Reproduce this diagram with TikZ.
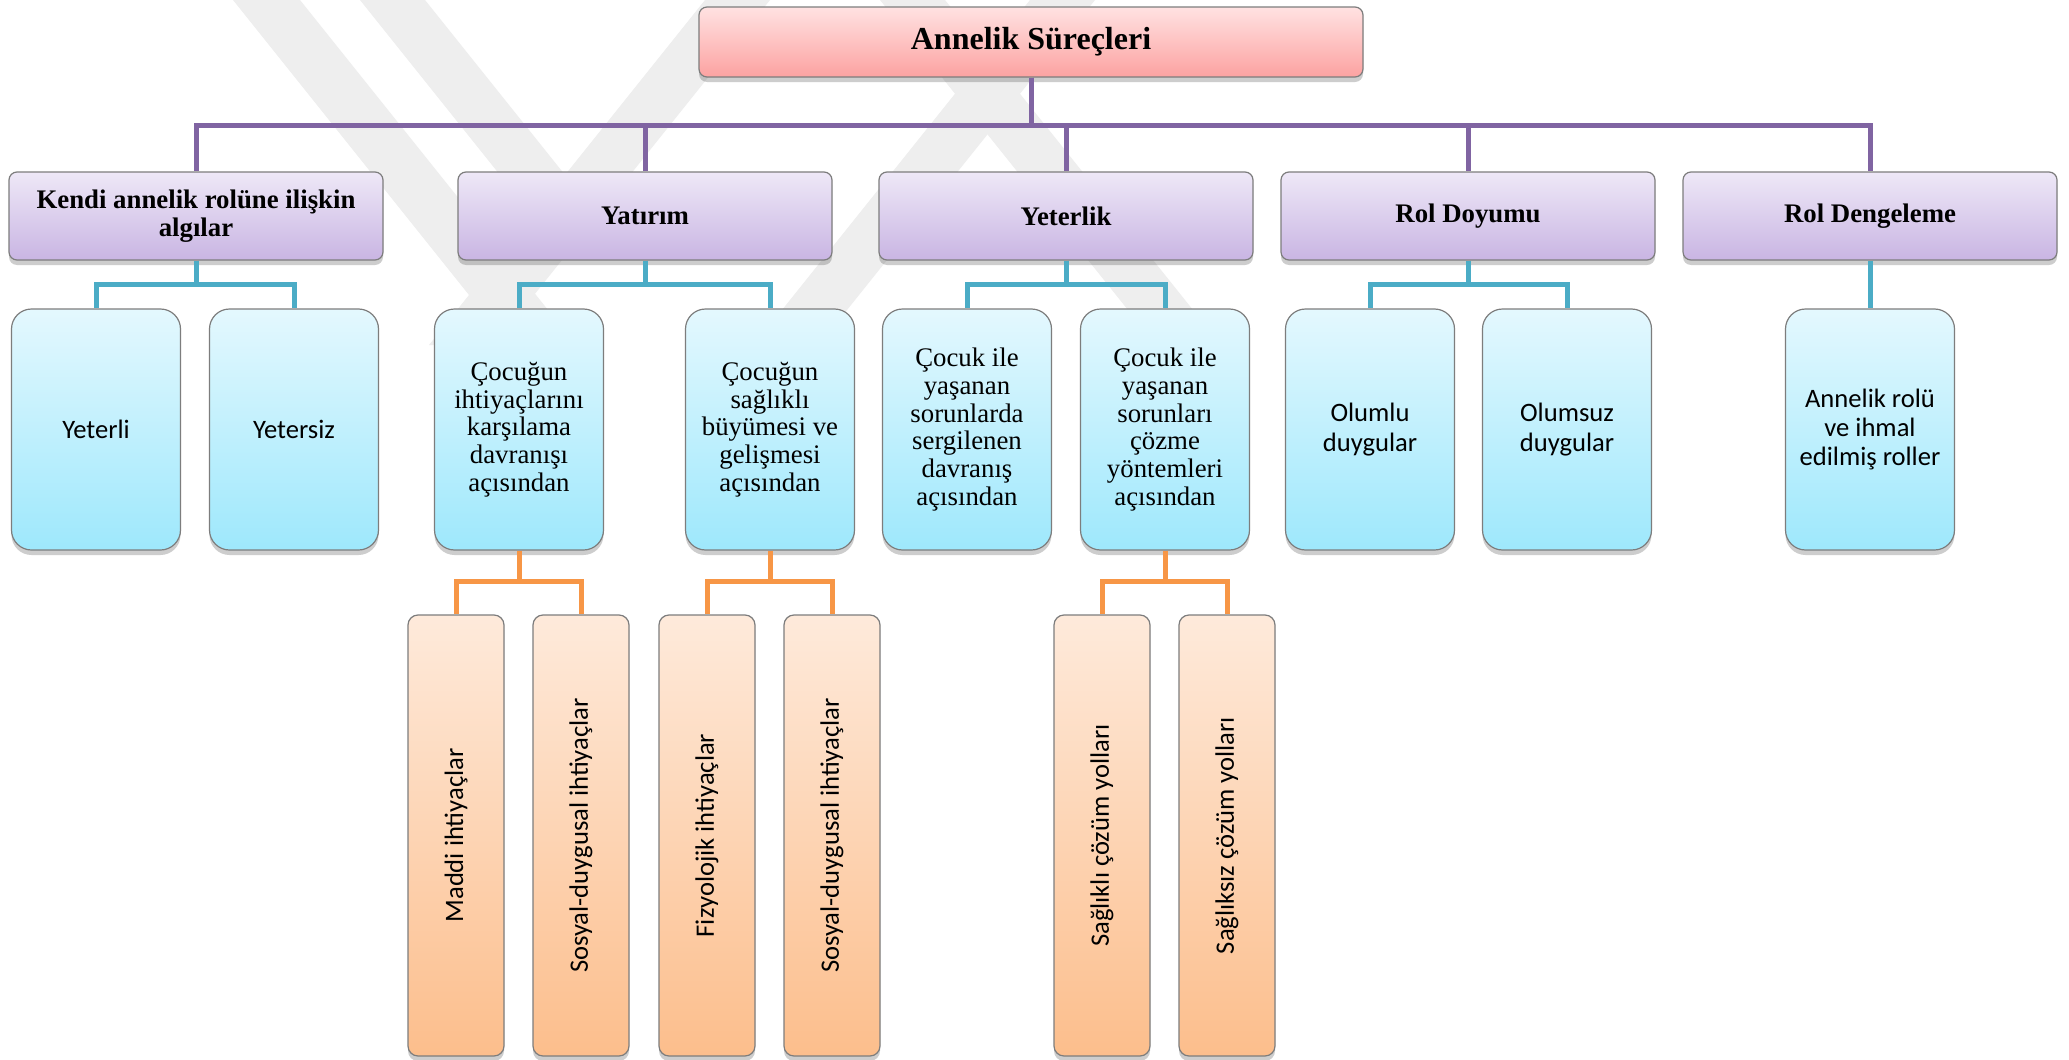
\documentclass[tikz,border=0pt]{standalone}
\usepackage{fontspec}
\setmainfont{Liberation Serif}
\newfontfamily\calibrifont{Carlito}
\usetikzlibrary{shadows}
\definecolor{pinkT}{RGB}{255,226,226}
\definecolor{pinkB}{RGB}{252,162,161}
\definecolor{purT}{RGB}{238,232,247}
\definecolor{purB}{RGB}{201,181,227}
\definecolor{bluT}{RGB}{228,248,254}
\definecolor{bluB}{RGB}{158,232,252}
\definecolor{orT}{RGB}{254,234,219}
\definecolor{orB}{RGB}{252,190,140}
\definecolor{lnP}{RGB}{128,100,162}
\definecolor{lnT}{RGB}{75,172,198}
\definecolor{lnO}{RGB}{247,150,70}
\definecolor{bdr}{RGB}{125,125,125}
\definecolor{wm}{RGB}{238,238,238}
\begin{document}
\begin{tikzpicture}[x=0.5pt,y=-0.5pt,
  box/.style={draw=bdr, line width=0.6pt, inner sep=0pt, align=center,
    drop shadow={shadow xshift=0pt, shadow yshift=-2.5pt, opacity=0.28, fill=black!70}},
  topbox/.style={box, rounded corners=4pt, minimum width=332pt, minimum height=35pt,
    top color=pinkT, bottom color=pinkB, font=\fontsize{16}{18}\selectfont\bfseries},
  lvlone/.style={box, rounded corners=4pt, minimum width=187pt, minimum height=44pt,
    top color=purT, bottom color=purB, font=\fontsize{13.4}{14}\selectfont\bfseries},
  lvltwo/.style={box, rounded corners=10pt, minimum width=84.5pt, minimum height=120.5pt,
    top color=bluT, bottom color=bluB},
  seriftxt/.style={font=\fontsize{13.4}{13.9}\selectfont},
  sanstxt/.style={font=\calibrifont\fontsize{13.3}{14.6}\selectfont},
  lvlthree/.style={box, rounded corners=5pt, minimum width=48pt, minimum height=220.5pt,
    top color=orT, bottom color=orB, font=\calibrifont\fontsize{13.3}{14.6}\selectfont},
  pl/.style={draw=lnP, line width=2.5pt},
  tl/.style={draw=lnT, line width=2.5pt},
  ol/.style={draw=lnO, line width=2.5pt}]
\useasboundingbox (0,0) rectangle (2069,1060);
\fill[white] (0,0) rectangle (2069,1060);
% faint watermark
\begin{scope}
\clip (0,0) rectangle (2069,345);
\fill[wm] (233,0) -- (300,0) -- (300+0.8*345,345) -- (233+0.8*345,345) -- cycle;
\fill[wm] (360,0) -- (425,0) -- (425+0.8*200,200) -- (360+0.8*200,200) -- cycle;
\fill[wm] (705,0) -- (770,0) -- (770-0.8*345,345) -- (705-0.8*345,345) -- cycle;
\fill[wm] (880,0) -- (945,0) -- (945+0.8*345,345) -- (880+0.8*345,345) -- cycle;
\fill[wm] (1030,0) -- (1095,0) -- (1095-0.8*345,345) -- (1030-0.8*345,345) -- cycle;
\end{scope}
% bus coordinates
\coordinate (busA) at (0,125);
\coordinate (busB) at (0,284);
\coordinate (busC) at (0,581);
% nodes
\node[topbox] (top) at (1031,42) {Annelik Süreçleri};
\node[lvlone] (k1) at (196,216) {Kendi annelik rolüne ilişkin\\algılar};
\node[lvlone] (k2) at (645,216) {Yatırım};
\node[lvlone] (k3) at (1066,216) {Yeterlik};
\node[lvlone] (k4) at (1468,216) {Rol Doyumu};
\node[lvlone] (k5) at (1870,216) {Rol Dengeleme};
\node[lvltwo, sanstxt] (c11) at (96,429.5) {Yeterli};
\node[lvltwo, sanstxt] (c12) at (294,429.5) {Yetersiz};
\node[lvltwo, seriftxt] (c21) at (519,429.5) {Çocuğun\\ihtiyaçlarını\\karşılama\\davranışı\\açısından};
\node[lvltwo, seriftxt] (c22) at (770,429.5) {Çocuğun\\sağlıklı\\büyümesi ve\\gelişmesi\\açısından};
\node[lvltwo, seriftxt] (c31) at (967,429.5) {Çocuk ile\\yaşanan\\sorunlarda\\sergilenen\\davranış\\açısından};
\node[lvltwo, seriftxt] (c32) at (1165,429.5) {Çocuk ile\\yaşanan\\sorunları\\çözme\\yöntemleri\\açısından};
\node[lvltwo, sanstxt] (c41) at (1370,429.5) {Olumlu\\duygular};
\node[lvltwo, sanstxt] (c42) at (1567,429.5) {Olumsuz\\duygular};
\node[lvltwo, sanstxt] (c51) at (1870,429.5) {Annelik rolü\\ve ihmal\\edilmiş roller};
\node[lvlthree] (d1) at (456,835.5) {\rotatebox{90}{Maddi ihtiyaçlar}};
\node[lvlthree] (d2) at (581,835.5) {\rotatebox{90}{Sosyal-duygusal ihtiyaçlar}};
\node[lvlthree] (d3) at (707,835.5) {\rotatebox{90}{Fizyolojik ihtiyaçlar}};
\node[lvlthree] (d4) at (832,835.5) {\rotatebox{90}{Sosyal-duygusal ihtiyaçlar}};
\node[lvlthree] (d5) at (1102,835.5) {\rotatebox{90}{Sağlıklı çözüm yolları}};
\node[lvlthree] (d6) at (1227,835.5) {\rotatebox{90}{Sağlıksız çözüm yolları}};
% purple connectors
\foreach \k in {k1,k2,k3,k4,k5}
  \draw[pl] (top.south) -- (top.south |- busA) -| (\k.north);
% teal connectors
\foreach \p/\c in {k1/c11,k1/c12,k2/c21,k2/c22,k3/c31,k3/c32,k4/c41,k4/c42,k5/c51}
  \draw[tl] (\p.south) -- (\p.south |- busB) -| (\c.north);
% orange connectors
\foreach \p/\c in {c21/d1,c21/d2,c22/d3,c22/d4,c32/d5,c32/d6}
  \draw[ol] (\p.south) -- (\p.south |- busC) -| (\c.north);
\end{tikzpicture}
\end{document}
